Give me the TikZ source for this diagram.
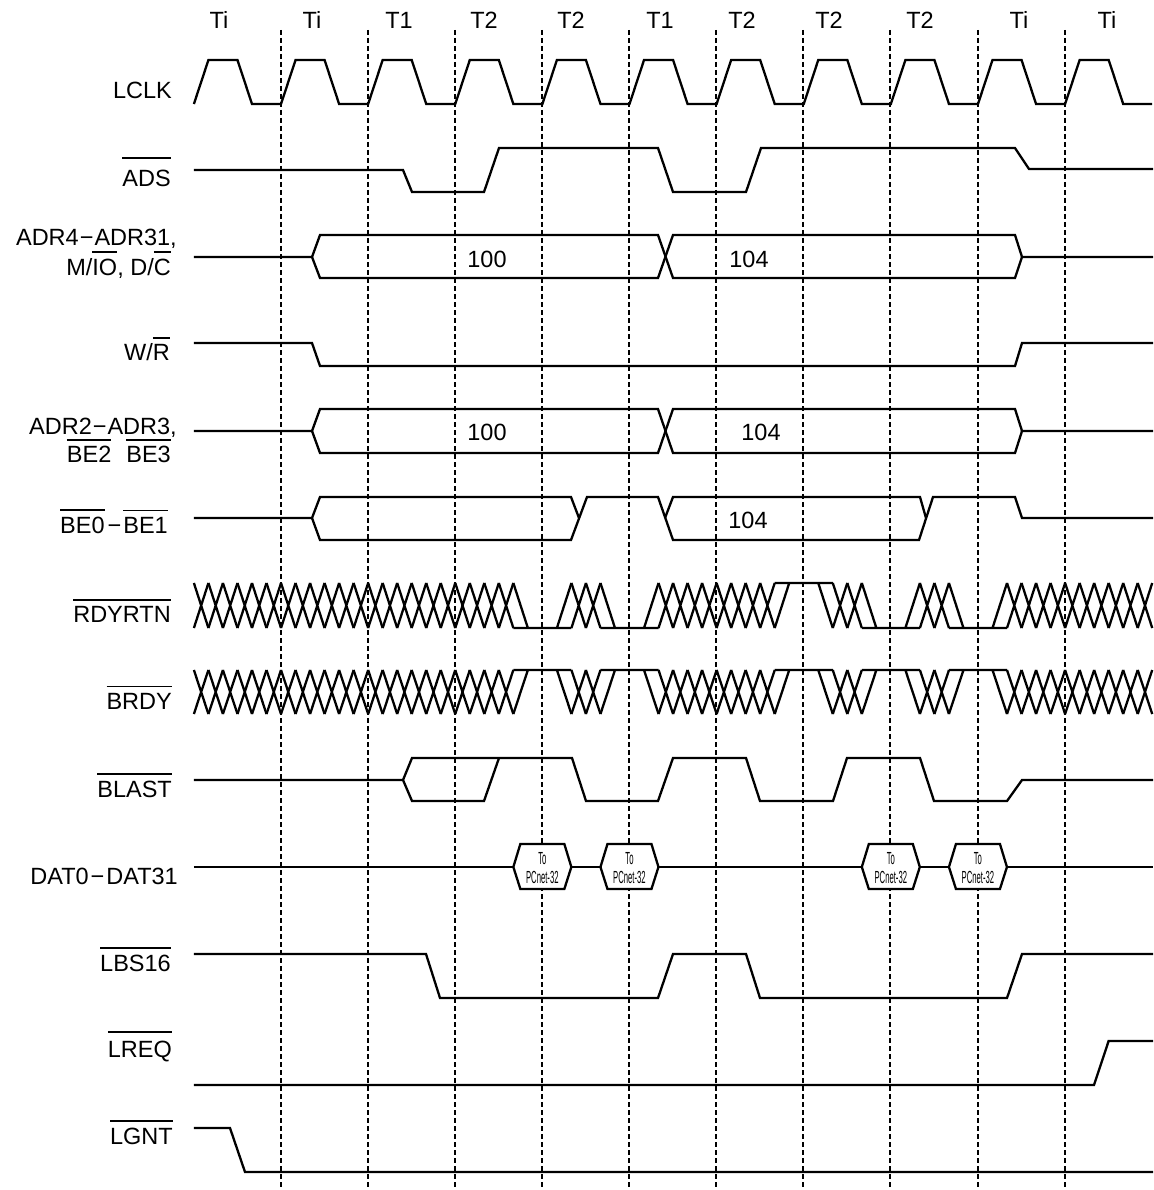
\documentclass[tikz,border=0pt]{standalone}
\usepackage{fontspec}
\setmainfont{Liberation Sans}

\newcommand\ovl[2][5.5pt]{\leavevmode\vbox{\hrule height 1.8pt\kern#1\hbox{#2}}}
\newcommand\xo{193.9}
\newcommand\sw{14.52}
% crossed slots #1..#2 between the levels #3 and #4
\newcommand\xzig[4]{\foreach \n in {#1,...,#2}
  \draw[sig] (\xo+\n*\sw,#3) -- (\xo+\n*\sw+\sw,#4) (\xo+\n*\sw,#4) -- (\xo+\n*\sw+\sw,#3);}
% four slots held at level #2 from slot #1, other level #3
\newcommand\xgap[3]{\draw[sig] (\xo+#1*\sw,#3) -- (\xo+#1*\sw+\sw,#2)
  (\xo+#1*\sw,#2) -- (\xo+#1*\sw+4*\sw,#2)
  (\xo+#1*\sw+3*\sw,#2) -- (\xo+#1*\sw+4*\sw,#3);}

\begin{document}
\begin{tikzpicture}[x=1pt,y=-1pt,
  sig/.style={line width=2.3pt},
  grid/.style={line width=2pt,dash pattern=on 5pt off 3pt},
  txt/.style={inner sep=0pt,font=\fontsize{23.5}{26}\selectfont},
  lbl/.style={txt,anchor=base east},
  hexbox/.style={sig,fill=white},
  small/.style={inner sep=0pt,align=center,font=\fontsize{17.5}{19}\selectfont}]
  \useasboundingbox (0,0) rectangle (1153,1190);

  % cycle boundaries
  \foreach \x in {281,368,455,542,629,716,803,890,978,1065}
    \draw[grid] (\x,30) -- (\x,1190);

  % cycle names
  \foreach \t/\x [count=\i] in {Ti/219,Ti/312,T1/399,T2/484,T2/571,T1/660,T2/742,T2/829,T2/920,Ti/1019,Ti/1107}
    \node[txt,anchor=base] (cyc\i) at (\x,29) {\t};

  % signal names
  \node[lbl] (lclk) at (172,99) {LCLK};
  \node[lbl] (ads) at (171,187) {\ovl[11.5pt]{ADS}};
  \node[lbl] (adrhi) at (177,245) {ADR4\kern1pt−\kern1ptADR31,};
  \node[lbl] (mio) at (171,275) {M/\ovl[6pt]{IO}, D/\ovl[6pt]{C}};
  \node[lbl] (wr) at (170,360) {W/\ovl[5pt]{R}};
  \node[lbl] (adrlo) at (177,434) {ADR2\kern1pt−\kern1ptADR3,};
  \node[lbl] (be23) at (171,462) {\ovl[5pt]{BE2}\hspace{15pt}\ovl[5pt]{BE3}};
  \node[lbl] (be01) at (168,533) {\ovl{BE0}\kern3pt−\kern2pt\ovl{BE1}};
  \node[lbl] (rdyrtn) at (171,622) {\ovl[5pt]{RDYRTN}};
  \node[lbl] (brdy) at (172,709) {\ovl{BRDY}};
  \node[lbl] (blast) at (172,797) {\ovl{BLAST}};
  \node[lbl] (dat) at (178,884) {DAT0\kern2pt−\kern2ptDAT31};
  \node[lbl] (lbs) at (171,971) {\ovl{LBS16}};
  \node[lbl] (lreq) at (172,1057) {\ovl[7.5pt]{LREQ}};
  \node[lbl] (lgnt) at (173,1144) {\ovl{LGNT}};

  % LCLK
  \draw[sig] (\xo,104) \foreach \k in {0,...,10} {-- ++(14.52,-44) -- ++(29.04,0) -- ++(14.52,44) -- ++(29.04,0)};

  % ADS
  \draw[sig] (\xo,170) -- (403,170) -- (412,192) -- (484,192) -- (499,148) -- (658,148) -- (673,192) -- (746,192) -- (761,148) -- (1015,148) -- (1029,169) -- (1153,169);

  % ADR4-ADR31
  \draw[sig] (\xo,257) -- (312,257) -- (320,235) -- (658,235) -- (673,278) -- (1015,278) -- (1022,257) -- (1153,257);
  \draw[sig] (312,257) -- (320,278) -- (658,278) -- (673,235) -- (1015,235) -- (1022,257);
  \node[txt,anchor=base] (hi100) at (487,267) {100};
  \node[txt,anchor=base] (hi104) at (749,267) {104};

  % W/R
  \draw[sig] (\xo,343) -- (312,343) -- (320,366) -- (1015,366) -- (1022,343) -- (1153,343);

  % ADR2-ADR3
  \draw[sig] (\xo,431) -- (312,431) -- (320,409) -- (658,409) -- (673,453) -- (1015,453) -- (1022,431) -- (1153,431);
  \draw[sig] (312,431) -- (320,453) -- (658,453) -- (673,409) -- (1015,409) -- (1022,431);
  \node[txt,anchor=base] (lo100) at (487,440) {100};
  \node[txt,anchor=base] (lo104) at (761,440) {104};

  % BE0-BE1
  \draw[sig] (\xo,518) -- (312,518) -- (320,497) -- (571,497) -- (579,518);
  \draw[sig] (312,518) -- (320,540) -- (571,540) -- (587,497) -- (658,497) -- (673,540) -- (919,540) -- (933,497) -- (1015,497) -- (1022,518) -- (1153,518);
  \draw[sig] (665,518) -- (673,497) -- (920,497) -- (926,518);
  \node[txt,anchor=base] (be104) at (748,528) {104};

  % RDYRTN
  \foreach \a/\b in {0/21,26/27,32/39,44/45,50/51,56/65} \xzig{\a}{\b}{583}{628};
  \foreach \a/\l/\o in {22/628/583,28/628/583,40/583/628,46/628/583,52/628/583} \xgap{\a}{\l}{\o};

  % BRDY
  \foreach \a/\b in {0/21,26/27,32/39,44/45,50/51,56/65} \xzig{\a}{\b}{670}{714};
  \foreach \a in {22,28,40,46,52} \xgap{\a}{670}{714};

  % BLAST
  \draw[sig] (\xo,780) -- (403,780) -- (412,758) -- (572,758) -- (586,801) -- (658,801) -- (673,758) -- (746,758) -- (760,801) -- (833,801) -- (847,758) -- (920,758) -- (934,801) -- (1007,801) -- (1022,780) -- (1153,780);
  \draw[sig] (403,780) -- (412,801) -- (484,801) -- (499,758);

  % DAT0-DAT31
  \draw[sig] (\xo,867) -- (1153,867);
  \foreach \a [count=\i] in {22,28,46,52} {
    \draw[hexbox] (\xo+\a*\sw,867) -- ++(7,-23) -- ++(44,0) -- ++(7,23) -- ++(-7,22) -- ++(-44,0) -- cycle;
    \node[small] (to\i) at (\xo+\a*\sw+29,868) {\scalebox{0.44}[1]{To}\\\scalebox{0.44}[1]{PCnet-32}};
  }

  % LBS16
  \draw[sig] (\xo,954) -- (426,954) -- (440,998) -- (658,998) -- (673,954) -- (746,954) -- (760,998) -- (1007,998) -- (1022,954) -- (1153,954);

  % LREQ
  \draw[sig] (\xo,1085) -- (1094,1085) -- (1108.6,1041) -- (1153,1041);

  % LGNT
  \draw[sig] (\xo,1128) -- (230,1128) -- (245,1172) -- (1153,1172);
\end{tikzpicture}
\end{document}
